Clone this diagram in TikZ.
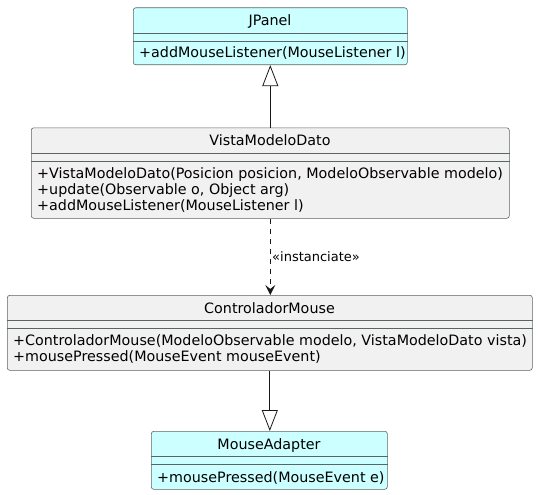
\documentclass[tikz,border=0pt]{standalone}
\usepackage{fontspec}
\setmainfont{DejaVu Sans}
\usetikzlibrary{arrows.meta}
\definecolor{clsline}{HTML}{181818}
\definecolor{boxline}{HTML}{5A6464}
\definecolor{ifcfill}{HTML}{CCFFFF}
\definecolor{clsfill}{HTML}{F1F1F1}
\begin{document}
\begin{tikzpicture}[x=1pt,y=-1pt,
  box/.style={draw=boxline, line width=0.6pt, rounded corners=2.5pt, inner sep=0pt, anchor=north west},
  sepline/.style={draw=boxline, line width=0.6pt},
  title/.style={anchor=base, inner sep=0pt, font=\fontsize{14.3}{16}\selectfont},
  member/.style={anchor=base west, inner sep=0pt, font=\fontsize{14.3}{16}\selectfont},
  lbl/.style={anchor=base west, inner sep=0pt, font=\fontsize{13}{15}\selectfont},
  gen/.style={draw=clsline, line width=0.8pt, -{Triangle[open, length=21pt, width=16pt]}},
  dep/.style={draw=clsline, line width=0.8pt, dash pattern=on 5pt off 5pt, -{Stealth[length=10pt, width=10pt, inset=4pt]}}]
\useasboundingbox (0,0) rectangle (538,495);

% JPanel
\node[box, fill=ifcfill, minimum width=274pt, minimum height=57pt] (jp) at (133,7.5) {};
\draw[sepline] ([yshift=-25.5pt]jp.north west) -- ([yshift=-25.5pt]jp.north east);
\draw[sepline] ([yshift=-33.5pt]jp.north west) -- ([yshift=-33.5pt]jp.north east);
\node[title] (jpT) at (270,25.5) {JPanel};
\node[member] (jpM1) at (139,58) {+addMouseListener(MouseListener l)};

% VistaModeloDato
\node[box, fill=clsfill, minimum width=478pt, minimum height=90.5pt] (vm) at (31,127.5) {};
\draw[sepline] ([yshift=-25.5pt]vm.north west) -- ([yshift=-25.5pt]vm.north east);
\draw[sepline] ([yshift=-33.5pt]vm.north west) -- ([yshift=-33.5pt]vm.north east);
\node[title] (vmT) at (270,145.5) {VistaModeloDato};
\node[member] (vmM1) at (37,178) {+VistaModeloDato(Posicion posicion, ModeloObservable modelo)};
\node[member] (vmM2) at (37,194) {+update(Observable o, Object arg)};
\node[member] (vmM3) at (37,210) {+addMouseListener(MouseListener l)};

% ControladorMouse
\node[box, fill=clsfill, minimum width=525pt, minimum height=75pt] (cm) at (7,295) {};
\draw[sepline] ([yshift=-25.5pt]cm.north west) -- ([yshift=-25.5pt]cm.north east);
\draw[sepline] ([yshift=-33.5pt]cm.north west) -- ([yshift=-33.5pt]cm.north east);
\node[title] (cmT) at (269.5,313) {ControladorMouse};
\node[member] (cmM1) at (13,345.5) {+ControladorMouse(ModeloObservable modelo, VistaModeloDato vista)};
\node[member] (cmM2) at (13,361.5) {+mousePressed(MouseEvent mouseEvent)};

% MouseAdapter
\node[box, fill=ifcfill, minimum width=236pt, minimum height=58pt] (ma) at (151,431) {};
\draw[sepline] ([yshift=-25.5pt]ma.north west) -- ([yshift=-25.5pt]ma.north east);
\draw[sepline] ([yshift=-33.5pt]ma.north west) -- ([yshift=-33.5pt]ma.north east);
\node[title] (maT) at (269,449) {MouseAdapter};
\node[member] (maM1) at (157,482) {+mousePressed(MouseEvent e)};

% Relations
\draw[gen] (vm.north) -- (vm.north |- jp.south);
\draw[dep] (vm.south) -- (vm.south |- cm.north);
\node[lbl] (inst) at (272,261) {«instanciate»};
\draw[gen] (cm.south) -- (cm.south |- ma.north);
\end{tikzpicture}
\end{document}
